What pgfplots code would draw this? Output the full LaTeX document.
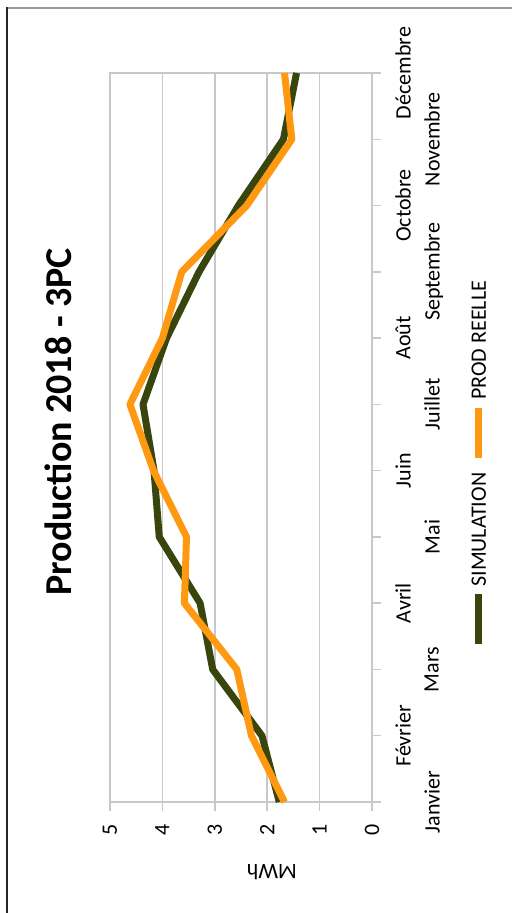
\documentclass[border=0pt]{standalone}
\usepackage{graphicx}
\usepackage{pgfplots}
\pgfplotsset{compat=1.18}
\usetikzlibrary{calc}
\usepackage{fontspec}
\setmainfont{Carlito}
\definecolor{simcol}{RGB}{56,70,14}
\definecolor{prodcol}{RGB}{255,153,17}
\definecolor{gridcol}{RGB}{200,200,200}
\begin{document}
\begin{tikzpicture}
\begin{axis}[
  width=131pt, height=364.5pt, scale only axis,
  x dir=reverse, xmin=0, xmax=5, ymin=0, ymax=11,
  clip=false,
  font=\fontsize{11}{13}\selectfont,
  /pgf/number format/assume math mode=true,
  xtick={0,1,2,3,4,5},
  xtick pos=bottom, ytick pos=right,
  tick align=outside, major tick length=4.5pt,
  xmajorgrids, major grid style={gridcol, line width=0.75pt},
  axis line style={gridcol, line width=0.75pt},
  every tick/.style={gridcol, line width=0.75pt},
  xticklabel style={yshift=-6.5pt, rotate=90, anchor=east, inner sep=0pt},
  ytick={0,2,4,6,8,10},
  yticklabels={Janvier,Mars,Mai,Juillet,Septembre,Novembre},
  yticklabel style={xshift=21.5pt, rotate=90, anchor=north, inner sep=0pt},
  extra y ticks={1,3,5,7,9,11},
  extra y tick labels={Février,Avril,Juin,Août,Octobre,Décembre},
  extra y tick style={ymajorgrids=false, yticklabel style={yshift=14.5pt}},
  xlabel={MWh},
  xlabel style={at={(axis description cs:0.618,-0.096)}, anchor=center, rotate=180},
  title={Production 2018 - 3PC},
  title style={at={(axis description cs:-0.198,0.505)}, anchor=center, rotate=90, font=\fontsize{19}{22}\selectfont\bfseries},
  legend columns=1, reverse legend, legend cell align=left,
  legend style={at={(axis description cs:1.408,0.464)}, anchor=center, draw=none, fill=none,
    column sep=0pt, row sep=6pt, nodes={inner sep=0pt}},
  legend image code/.code={},
]
\addplot[simcol, line width=3.5pt, line join=round] coordinates {
 (1.77,0) (2.10,1) (3.04,2) (3.28,3) (4.06,4) (4.16,5) (4.37,6) (3.92,7) (3.30,8) (2.55,9) (1.69,10) (1.44,11)};
\addlegendentry{\rotatebox{90}{\textcolor{simcol}{\rule[1.75pt]{25pt}{3.5pt}}\hspace{3.5pt}SIMULATION}}
\addplot[prodcol, line width=3.5pt, line join=round] coordinates {
 (1.67,0) (2.30,1) (2.58,2) (3.58,3) (3.54,4) (4.17,5) (4.62,6) (4.00,7) (3.63,8) (2.39,9) (1.53,10) (1.67,11)};
\addlegendentry{\rotatebox{90}{\textcolor{prodcol}{\rule[1.75pt]{25pt}{3.5pt}}\hspace{4pt}PROD REELLE}}
\coordinate (ll) at (axis cs:5,0);
\end{axis}
\pgfresetboundingbox
\useasboundingbox ($(ll)+(-55pt,-55.5pt)$) rectangle ++(256pt,456.5pt);
\draw[line width=0.6pt, gray!80] ($(ll)+(-51.5pt,397pt)$) -- ++(252.5pt,0);
\draw[line width=1.1pt, black!85] ($(ll)+(-51.5pt,-55.5pt)$) -- ++(0,452.8pt);
\end{tikzpicture}
\end{document}
